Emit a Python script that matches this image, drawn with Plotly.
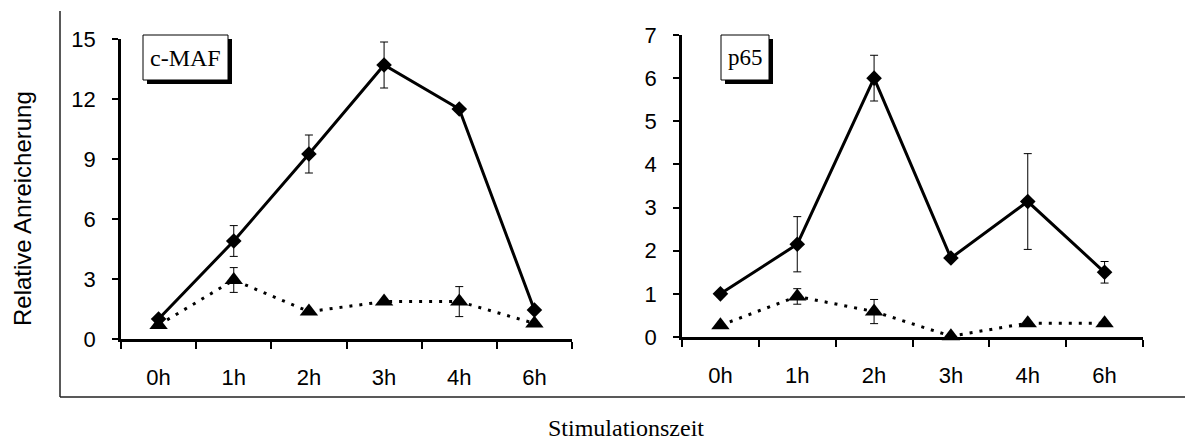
import plotly.graph_objects as go

W, H = 1185, 441

categories = ["0h", "1h", "2h", "3h", "4h", "6h"]

cmaf_stim = [1.0, 4.9, 9.25, 13.7, 11.5, 1.45]
cmaf_stim_err = [0, 0.77, 0.95, 1.15, 0, 0]
cmaf_ctrl = [0.7, 2.95, 1.37, 1.87, 1.87, 0.78]
cmaf_ctrl_err = [0, 0.62, 0, 0, 0.75, 0]

p65_stim = [1.0, 2.15, 6.0, 1.83, 3.14, 1.5]
p65_stim_err = [0, 0.64, 0.53, 0, 1.11, 0.25]
p65_ctrl = [0.27, 0.94, 0.59, 0.02, 0.32, 0.32]
p65_ctrl_err = [0, 0.18, 0.28, 0, 0, 0]

cmaf_ticks = [0, 3, 6, 9, 12, 15]
p65_ticks = [0, 1, 2, 3, 4, 5, 6, 7]

def px_x(p):
    return p / W

def px_y(p):
    return 1 - p / H

fig = go.Figure()

def add_pair(stim, stim_err, ctrl, ctrl_err, xa, ya):
    fig.add_trace(go.Scatter(
        x=categories, y=ctrl, xaxis=xa, yaxis=ya, mode="lines+markers",
        line=dict(color="black", width=3, dash="3px,7px"),
        marker=dict(symbol="triangle-up", size=16, color="black"),
        error_y=dict(type="data", array=ctrl_err, visible=True, color="black",
                     thickness=1, width=4),
        cliponaxis=False, showlegend=False))
    fig.add_trace(go.Scatter(
        x=categories, y=stim, xaxis=xa, yaxis=ya, mode="lines+markers",
        line=dict(color="black", width=3),
        marker=dict(symbol="diamond", size=12, color="black"),
        error_y=dict(type="data", array=stim_err, visible=True, color="black",
                     thickness=1, width=4),
        cliponaxis=False, showlegend=False))

add_pair(cmaf_stim, cmaf_stim_err, cmaf_ctrl, cmaf_ctrl_err, "x", "y")
add_pair(p65_stim, p65_stim_err, p65_ctrl, p65_ctrl_err, "x2", "y2")

tickfont = dict(family="Liberation Sans, Arial", size=22, color="black")

xcommon = dict(type="category", categoryorder="array", categoryarray=categories,
               range=[-0.5, 5.5], showline=True, linewidth=2.5, linecolor="black",
               ticks="outside", tickson="boundaries", ticklen=7, tickwidth=2,
               tickcolor="black", showgrid=False, zeroline=False, automargin=False,
               tickfont=tickfont, ticklabelstandoff=17, fixedrange=True)
ycommon = dict(showline=True, linewidth=2.5, linecolor="black",
               ticks="outside", ticklen=6, tickwidth=2, tickcolor="black",
               showgrid=False, zeroline=False, tickfont=tickfont, automargin=False,
               ticklabelstandoff=12, fixedrange=True)

fig.update_layout(
    width=W, height=H, autosize=False,
    margin=dict(l=0, r=0, t=0, b=0, pad=0),
    paper_bgcolor="white", plot_bgcolor="white",
    xaxis=dict(domain=[px_x(121), px_x(572)], anchor="y", **xcommon),
    yaxis=dict(domain=[px_y(339), px_y(39)], anchor="x", range=[0, 15],
               tickvals=cmaf_ticks, **ycommon),
    xaxis2=dict(domain=[px_x(682), px_x(1143)], anchor="y2", **xcommon),
    yaxis2=dict(domain=[px_y(337), px_y(35)], anchor="x2", range=[0, 7],
                tickvals=p65_ticks, **ycommon),
)

shapes = []
shapes.append(dict(type="line", xref="paper", yref="paper",
                   x0=px_x(60), x1=px_x(60), y0=px_y(11), y1=px_y(397),
                   line=dict(color="#222", width=1.5)))
shapes.append(dict(type="line", xref="paper", yref="paper",
                   x0=px_x(60), x1=1, y0=px_y(397), y1=px_y(397),
                   line=dict(color="#222", width=1.5)))

def label_box(x0, y0, x1, y1):
    shapes.append(dict(type="rect", xref="paper", yref="paper",
                       x0=px_x(x0 + 4), x1=px_x(x1 + 4), y0=px_y(y0 + 4), y1=px_y(y1 + 4),
                       fillcolor="black", line=dict(width=0)))
    shapes.append(dict(type="rect", xref="paper", yref="paper",
                       x0=px_x(x0), x1=px_x(x1), y0=px_y(y0), y1=px_y(y1),
                       fillcolor="white", line=dict(color="black", width=1)))

label_box(143, 35, 228, 80)
label_box(721, 35, 769, 80)
fig.update_layout(shapes=shapes)

serif = "Liberation Serif, Times New Roman"
def ann(x, y, text, font, angle=0):
    fig.add_annotation(x=px_x(x), y=px_y(y), xref="paper", yref="paper",
                       xanchor="center", yanchor="middle", text=text,
                       showarrow=False, textangle=angle, font=font)

ann(185.5, 58, "c-MAF", dict(family=serif, size=24, color="black"))
ann(745, 58, "p65", dict(family=serif, size=23, color="black"))
ann(23, 209, "Relative Anreicherung",
    dict(family="Liberation Sans, Arial", size=24, color="black"), angle=-90)
ann(626, 428, "Stimulationszeit", dict(family=serif, size=24, color="black"))

fig.write_html("out.html", config={"displayModeBar": False},
               post_script="document.body.style.margin='0';document.body.style.overflow='hidden';")
